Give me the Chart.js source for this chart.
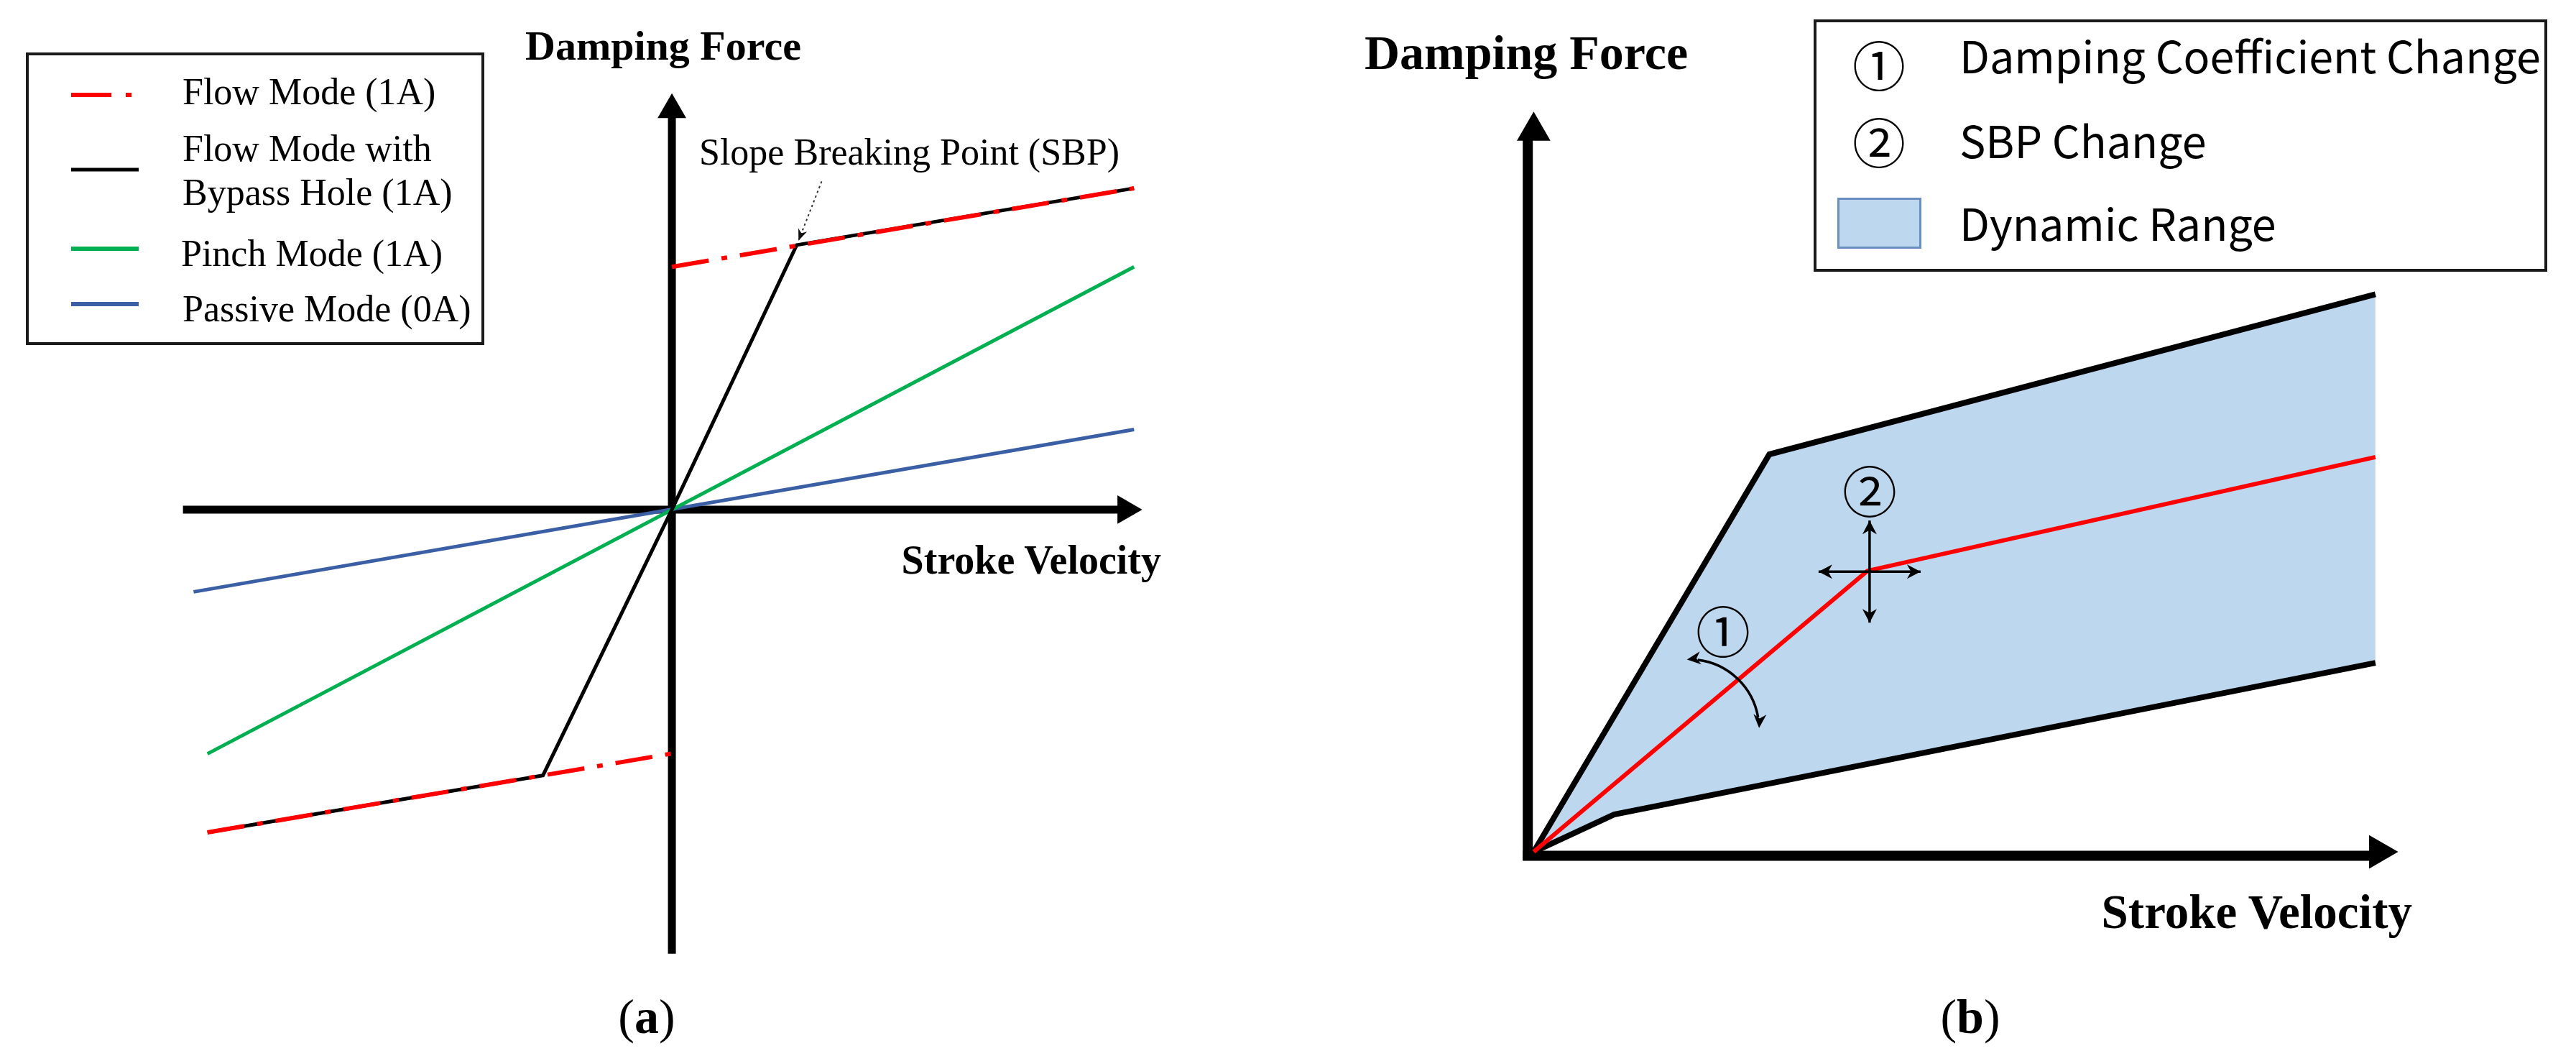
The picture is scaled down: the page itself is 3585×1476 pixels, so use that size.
<!DOCTYPE html>
<html lang="en">
<head>
<meta charset="utf-8">
<title>Damping Force / Stroke Velocity</title>
<script src="https://cdn.jsdelivr.net/npm/chart.js@4.4.1/dist/chart.umd.min.js"></script>
<style>
  html, body { margin: 0; padding: 0; background: #fff; }
  #page { position: relative; width: 3585px; height: 1476px; overflow: hidden; background: #fff; }
  canvas { position: absolute; top: 0; }
  #graphique-a { left: 0; }
  #graphique-b { left: 1800px; }
  .txt { position: absolute; white-space: nowrap; line-height: 1; color: #000; }
  .serif { font-family: "Liberation Serif", "Times New Roman", serif; }
  .gras { font-weight: bold; }
  .sans { font-family: "Noto Sans CJK KR", "Noto Sans", sans-serif; }
  .centre { transform: translate(-50%, -50%); }
  .gauche { transform: translate(0, -50%); }
  .droite { transform: translate(-100%, -50%); }
  .cadre { position: absolute; box-sizing: border-box; border: 4px solid #1a1a1a; }
</style>
</head>
<body>
<div id="page">
  <canvas id="graphique-a" width="1800" height="1476"></canvas>
  <canvas id="graphique-b" width="1785" height="1476"></canvas>

  <!-- Panneau (a) -->
  <div class="txt serif gras centre" style="left:923px;top:64px;font-size:58px;">Damping Force</div>
  <div class="txt serif gras droite" style="left:1616px;top:779px;font-size:56px;">Stroke Velocity</div>
  <div class="txt serif gauche" style="left:973px;top:212px;font-size:52px;">Slope Breaking Point (SBP)</div>

  <div class="cadre" style="left:36px;top:73px;width:638px;height:407px;background:#fff;"></div>
  <svg style="position:absolute;left:0;top:0;" width="700" height="500">
    <line x1="99" y1="132" x2="190" y2="132" stroke="#ff0000" stroke-width="6" stroke-dasharray="56 20 8 40"/>
    <line x1="99" y1="236" x2="193" y2="236" stroke="#000" stroke-width="5"/>
    <line x1="99" y1="346" x2="193" y2="346" stroke="#00b050" stroke-width="6"/>
    <line x1="99" y1="423" x2="193" y2="423" stroke="#3a5fa5" stroke-width="6"/>
  </svg>
  <div class="txt serif gauche" style="left:254px;top:128px;font-size:52px;">Flow Mode (1A)</div>
  <div class="txt serif gauche" style="left:254px;top:207px;font-size:52px;">Flow Mode with</div>
  <div class="txt serif gauche" style="left:254px;top:268px;font-size:52px;">Bypass Hole (1A)</div>
  <div class="txt serif gauche" style="left:252px;top:353px;font-size:52px;">Pinch Mode (1A)</div>
  <div class="txt serif gauche" style="left:254px;top:430px;font-size:52px;">Passive Mode (0A)</div>

  <div class="txt serif centre" style="left:900px;top:1414px;font-size:68px;">(<b>a</b>)</div>

  <!-- Panneau (b) -->
  <div class="txt serif gras centre" style="left:2124px;top:73px;font-size:68px;">Damping Force</div>
  <div class="txt serif gras droite" style="left:3357px;top:1268px;font-size:67px;">Stroke Velocity</div>

  <div class="cadre" style="left:2524px;top:27px;width:1021px;height:351px;background:#fff;"></div>
  <div class="txt sans centre" style="left:2615px;top:88px;font-size:74px;">①</div>
  <div class="txt sans centre" style="left:2615px;top:195px;font-size:74px;">②</div>
  <div style="position:absolute;left:2557px;top:275px;width:117px;height:71px;box-sizing:border-box;background:#bdd7ee;border:3px solid #6a8ec0;"></div>
  <div class="txt sans gauche" style="left:2727px;top:75px;font-size:61px;">Damping Coefficient Change</div>
  <div class="txt sans gauche" style="left:2727px;top:193px;font-size:61px;">SBP Change</div>
  <div class="txt sans gauche" style="left:2727px;top:308px;font-size:61px;">Dynamic Range</div>

  <div class="txt sans centre" style="left:2398px;top:875px;font-size:76px;">①</div>
  <div class="txt sans centre" style="left:2602px;top:680px;font-size:76px;">②</div>

  <div class="txt serif centre" style="left:2742px;top:1414px;font-size:68px;">(<b>b</b>)</div>
</div>

<script>
// =====================================================================
// Courbes force d'amortissement / vitesse de course
// (a) modes de fonctionnement, (b) plage dynamique
// Unités arbitraires : pas de graduation sur les axes
// =====================================================================

// ---------- Données du panneau (a) ----------
// Mode écoulement (1A) : deux demi-droites décalées
const vitesseFlowHaut = [0, 10];
const forceFlowHaut = [10, 13.24];
const vitesseFlowBas = [-10.05, 0];
const forceFlowBas = [-13.3, -10.05];
// Mode écoulement avec trou de dérivation (1A)
const vitesseBypass = [-10.05, -2.79, 0, 2.7, 10];
const forceBypass = [-13.3, -10.95, 0, 10.9, 13.24];
// Mode pincement (1A)
const vitessePinch = [-10.05, 10];
const forcePinch = [-10.06, 10];
// Mode passif (0A)
const vitessePassif = [-10.35, 10];
const forcePassif = [-3.39, 3.3];
// Axes (a) : étendue de la flèche horizontale et verticale
const axeVitesseA = [-10.58, 9.82];
const axeForceA = [-18.3, 16.47];
// Flèche pointillée vers le point de rupture de pente
const flecheSbpV = [3.24, 2.74];
const flecheSbpF = [13.52, 11.08];

// ---------- Données du panneau (b) ----------
const vitesseHaut = [0, 2.8, 10];
const forceHaut = [0, 7.13, 10];
const vitesseBas = [0, 0.955, 10];
const forceBas = [0, 0.67, 3.39];
const vitesseRouge = [0, 3.965, 10];
const forceRouge = [0, 5.04, 7.08];
// Axes (b)
const axeVitesseB = [-0.13, 10.04];
const axeForceB = [-0.15, 12.93];
// Pivot de la flèche courbe (changement du coefficient)
const pivotCoeffV = 1.85;
const pivotCoeffF = 2.2;

// ---------- Mise en page (pixels) ----------
const ORIGINE_A = { x: 936, y: 708 };
const UNITE_A = { x: 66, y: 34.85 };
const ORIGINE_B = { x: 317, y: 1202 };
const UNITE_B = { x: 120.8, y: 80.5 };

// Bornes des échelles pour que l'origine tombe au bon pixel
function bornes(canvas, origine, unite) {
  return {
    x: { min: -origine.x / unite.x, max: (canvas.width - origine.x) / unite.x },
    y: { min: -(canvas.height - origine.y) / unite.y, max: origine.y / unite.y }
  };
}

// Série tracée en ligne à partir de deux tableaux x / y
function serie(xs, ys, couleur, epaisseur, extra) {
  return Object.assign({
    data: xs.map((x, i) => ({ x, y: ys[i] })),
    showLine: true,
    borderColor: couleur,
    borderWidth: epaisseur,
    pointRadius: 0,
    pointHoverRadius: 0,
    fill: false
  }, extra || {});
}

// Pointes de flèche des axes (triangles de Chart.js)
function pointes(finX, finY, rayon) {
  return {
    data: [{ x: finX, y: 0 }, { x: 0, y: finY }],
    showLine: false,
    pointStyle: 'triangle',
    pointRadius: rayon,
    pointHoverRadius: rayon,
    pointRotation: [90, 0],
    pointBackgroundColor: '#000',
    pointBorderWidth: 0
  };
}

// Tête de flèche pleine, pointe en (x, y) orientée selon angle
function tete(ctx, x, y, angle, longueur, largeur) {
  ctx.save();
  ctx.translate(x, y);
  ctx.rotate(angle);
  ctx.beginPath();
  ctx.moveTo(0, 0);
  ctx.lineTo(-longueur, -largeur / 2);
  ctx.lineTo(-longueur * 0.7, 0);
  ctx.lineTo(-longueur, largeur / 2);
  ctx.closePath();
  ctx.fill();
  ctx.restore();
}

// Flèche double droite entre deux points
function flecheDouble(ctx, x1, y1, x2, y2) {
  const a = Math.atan2(y2 - y1, x2 - x1);
  ctx.beginPath();
  ctx.moveTo(x1, y1);
  ctx.lineTo(x2, y2);
  ctx.stroke();
  tete(ctx, x2, y2, a, 19, 20);
  tete(ctx, x1, y1, a + Math.PI, 19, 20);
}

const optionsCommunes = (lim) => ({
  responsive: false,
  animation: false,
  events: [],
  layout: { padding: 0 },
  plugins: {
    legend: { display: false },
    tooltip: { enabled: false },
    filler: { drawTime: 'beforeDatasetsDraw' }
  },
  scales: {
    x: { type: 'linear', display: false, min: lim.x.min, max: lim.x.max },
    y: { type: 'linear', display: false, min: lim.y.min, max: lim.y.max }
  }
});

// Annotation (a) : flèche pointillée du libellé SBP
const annotationsA = {
  id: 'annotationsA',
  afterDatasetsDraw(chart) {
    const { ctx, scales: { x, y } } = chart;
    const x1 = x.getPixelForValue(flecheSbpV[0]);
    const y1 = y.getPixelForValue(flecheSbpF[0]);
    const x2 = x.getPixelForValue(flecheSbpV[1]);
    const y2 = y.getPixelForValue(flecheSbpF[1]);
    ctx.save();
    ctx.strokeStyle = '#333';
    ctx.fillStyle = '#111';
    ctx.lineWidth = 2;
    ctx.setLineDash([3, 4]);
    ctx.beginPath();
    ctx.moveTo(x1, y1);
    ctx.lineTo(x2, y2);
    ctx.stroke();
    ctx.setLineDash([]);
    tete(ctx, x2, y2, Math.atan2(y2 - y1, x2 - x1), 16, 13);
    ctx.restore();
  }
};

// Annotations (b) : croix de déplacement du SBP et flèche courbe
const annotationsB = {
  id: 'annotationsB',
  afterDatasetsDraw(chart) {
    const { ctx, scales: { x, y } } = chart;
    const px = x.getPixelForValue(vitesseRouge[1]) + 3;
    const py = y.getPixelForValue(forceRouge[1]) + 1;
    const bras = 71;
    ctx.save();
    ctx.strokeStyle = '#000';
    ctx.fillStyle = '#000';
    ctx.lineWidth = 3.5;
    flecheDouble(ctx, px - bras, py, px + bras, py);
    flecheDouble(ctx, px, py - bras, px, py + bras);

    // arc autour du pivot, pointes aux deux extrémités
    const cx = x.getPixelForValue(pivotCoeffV);
    const cy = y.getPixelForValue(pivotCoeffF);
    const r = 97;
    const a0 = -92 * Math.PI / 180;
    const a1 = -1 * Math.PI / 180;
    const marge = 15 / r;
    ctx.beginPath();
    ctx.arc(cx, cy, r, a0 + marge, a1 - marge);
    ctx.stroke();
    tete(ctx, cx + r * Math.cos(a0), cy + r * Math.sin(a0), a0 - Math.PI / 2 - 0.08, 19, 18);
    tete(ctx, cx + r * Math.cos(a1), cy + r * Math.sin(a1), a1 + Math.PI / 2 + 0.08, 19, 18);
    ctx.restore();
  }
};

// ---------- Panneau (a) ----------
function afficherGraphiqueA() {
  const canvas = document.getElementById('graphique-a');
  const lim = bornes(canvas, ORIGINE_A, UNITE_A);
  const tiret = { borderDash: [52, 18, 8, 18] };

  new Chart(canvas.getContext('2d'), {
    type: 'scatter',
    data: {
      datasets: [
        serie(vitesseFlowHaut, forceFlowHaut, '#ff0000', 6, tiret),
        serie(vitesseFlowBas, forceFlowBas, '#ff0000', 6, tiret),
        serie(vitesseBypass, forceBypass, '#000000', 5),
        serie(vitessePinch, forcePinch, '#00b050', 5),
        serie(vitessePassif, forcePassif, '#3a5fa5', 5),
        pointes(axeVitesseA[1], axeForceA[1], 23),
        serie(axeVitesseA, [0, 0], '#000000', 11),
        serie([0, 0], axeForceA, '#000000', 11)
      ]
    },
    options: optionsCommunes(lim),
    plugins: [annotationsA]
  });
}

// ---------- Panneau (b) ----------
function afficherGraphiqueB() {
  const canvas = document.getElementById('graphique-b');
  const lim = bornes(canvas, ORIGINE_B, UNITE_B);

  new Chart(canvas.getContext('2d'), {
    type: 'scatter',
    data: {
      datasets: [
        serie(vitesseRouge, forceRouge, '#ff0000', 6),
        serie(vitesseHaut, forceHaut, '#000000', 8, { fill: '+1', backgroundColor: '#bdd7ee' }),
        serie(vitesseBas, forceBas, '#000000', 8),
        pointes(axeVitesseB[1], axeForceB[1], 27),
        serie(axeVitesseB, [-0.07, -0.07], '#000000', 14),
        serie([-0.07, -0.07], axeForceB, '#000000', 14)
      ]
    },
    options: optionsCommunes(lim),
    plugins: [annotationsB]
  });
}

afficherGraphiqueA();
afficherGraphiqueB();
</script>
</body>
</html>
